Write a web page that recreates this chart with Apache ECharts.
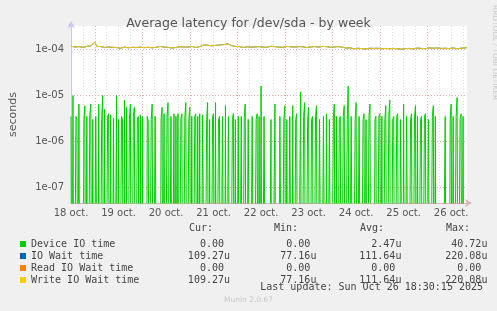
<!DOCTYPE html>
<html><head><meta charset="utf-8">
<script src="https://cdn.jsdelivr.net/npm/echarts@6/dist/echarts.min.js"></script>
<style>html,body{margin:0;padding:0;background:#f0f0f0;}#c{width:497px;height:311px;}</style>
</head><body><div id="c"></div>
<script>
// x unit: hours since 18 oct 00:00; plot spans 18 oct 12:00 .. 26 oct 20:00
const xMin = 12, xMax = 212;
const dayLabels = ['18 oct.','19 oct.','20 oct.','21 oct.','22 oct.','23 oct.','24 oct.','25 oct.','26 oct.'];
const yTickLabels = {'-7':'1e-07','-6':'1e-06','-5':'1e-05','-4':'1e-04'};
const yMin = 4.56e-8, yMax = 3.26e-4;

// Device IO time, microseconds, one sample per 30 minutes starting at hour 12
const deviceStart = 12, deviceStep = 0.5;
const deviceIO = [
3.5,0,10,0,0,3.5,3,0,6.5,0,0,0,0,3,6,0,3.5,0,0,3.8,
6.5,0,3,0,0,3.5,3.2,0,6.5,0,0,3,10,0,5,0,0,3.5,4,0,
3.8,0,0,3.2,0,0,10,0,3,0,0,3.5,3,0,8,0,5.5,0,0,3,
6.5,0,0,3.5,5.5,0,0,3,3.5,0,3.8,0,3.5,0,0,0,0,3.5,2.8,0,
0,3,6.5,0,0,3.5,3.5,0,0,0,0,3.2,5.5,0,4,0,0,3.5,7,0,
0,3.5,0,0,4,0,3.5,0,4,0,0,3,4,0,0,3.5,7,0,0,3,
5.5,0,3.5,0,0,3.5,4,0,3.5,0,4,0,0,3.8,3.5,0,0,3,7,0,
3,0,0,3.5,4,0,7,0,0,3,3.5,0,0,3.5,3.8,0,6,0,0,3.5,
3.5,0,0,3,4,0,3,0,0,3.5,0,0,3.5,0,0,3.2,6.5,0,0,3,
3,0,0,3.5,3.5,0,0,3,4,0,3.5,0,16,0,0,3.5,3.5,0,0,0,
0,0,3,0,0,0,6.5,0,0,0,0,3.5,3.5,0,0,3,6,0,3,0,
0,3.5,3.5,0,6,0,0,3,4,0,0,0,12,0,0,3.5,7,0,0,3,
5.5,0,0,3,3.5,0,0,3.5,6,0,0,3,3.2,0,0,3.5,3.5,0,4,0,
0,3,3,0,0,3.5,6.5,0,3.5,0,0,3,3.5,0,0,3.5,6,0,0,3,
16,0,0,3.5,3.5,0,0,3,7,0,0,3.5,3.8,0,0,3,4,0,3,0,
0,3.5,6.5,0,0,0,0,3,3.5,0,0,3.5,4,0,3.5,0,0,3,6,0,
0,3.5,8,0,0,3,3.5,0,0,3.5,4,0,0,3,3,0,6.5,0,0,3.5,
3.5,0,0,3,4,0,0,3.5,6,0,3.5,0,0,3,3.5,0,0,3.5,4,0,
0,3,3,0,0,3.5,6,0,3.5,0,0,0,0,0,0,0,0,0,3.5,0,
0,0,0,3,6.5,0,3.5,0,0,3.5,9,0,0,3,4,0,3.5,0,0,0
];
// Write IO Wait time, microseconds, one sample per hour starting at hour 12
const writeStart = 12, writeStep = 1;
const writeWait = [
118,121,114,117,116,113,112,116,117,119,121,124,145,118,113,116,115,111,112,114,
110,112,108,111,112,107,109,113,111,109,114,112,108,111,110,113,113,110,109,112,
111,109,108,112,114,117,110,113,116,112,112,108,109,111,113,115,110,114,118,113,
112,117,115,111,110,116,122,126,128,124,125,121,119,123,121,126,124,128,130,133,
127,123,120,117,118,116,114,111,112,115,116,113,110,114,113,116,117,113,111,112,
115,118,112,116,118,113,110,112,114,117,120,115,116,113,112,116,119,115,113,111,
111,114,118,116,115,113,112,117,120,116,114,112,117,114,113,116,116,113,112,108,
106,109,107,104,105,107,108,105,106,103,104,107,109,106,105,107,108,104,104,106,
106,104,103,106,107,104,105,102,102,105,108,106,104,103,106,108,109,106,105,104,
107,109,110,107,106,108,109,106,105,107,108,105,106,109,107,104,105,107,108,109,110
];
const ioWait = writeWait; // identical to write wait in the reference
const readWait = [0, 0];  // zero over the whole period
const readHours = [12, 212];

const names = ['Device IO time','IO Wait time','Read IO Wait time','Write IO Wait time'];
const colors = ['#00cc00','#0066b3','#ff8000','#ffcc00'];
const curVals = ['0.00 ','109.27u','0.00 ','109.27u'];
const minVals = ['0.00 ','77.16u','0.00 ','77.16u'];
const avgVals = ['2.47u','111.64u','0.00 ','111.64u'];
const maxVals = ['40.72u','220.08u','0.00 ','220.08u'];
const headers = ['Cur:','Min:','Avg:','Max:'];
const lastUpdate = 'Last update: Sun Oct 26 18:30:15 2025';

const FLOOR = 1e-12; // zero cannot be shown on a log axis: drawn below the plot and clipped
function toPairs(vals, start, step) {
  return vals.map((v, i) => [start + i * step, v === 0 ? FLOOR : v * 1e-6]);
}
const minorGrid = [];
[1e-8,1e-7,1e-6,1e-5,1e-4].forEach(d => { for (let m = 2; m <= 9; m++) { const v = d*m; if (v > yMin && v < yMax) minorGrid.push({yAxis: v}); } });

const chart = echarts.init(document.getElementById('c'), null, {renderer: 'canvas'});
const mono = 'DejaVu Sans Mono';
const gray = '#dcdcdc', red = '#e8a8a8';
const txt = '#444';
chart.setOption({
  backgroundColor: '#f0f0f0',
  animation: false,
  title: {text: 'Average latency for /dev/sda - by week', left: 'center', top: 12,
    textStyle: {fontFamily: 'DejaVu Sans', fontSize: 12.5, fontWeight: 'normal', color: '#555'}},
  grid: {left: 67, right: 30, top: 26, bottom: 108, show: true, backgroundColor: '#ffffff', borderWidth: 0},
  xAxis: {type: 'value', min: xMin, max: xMax, interval: 6,
    axisLine: {show: true, lineStyle: {color: '#e0b0b8', width: 1}, symbol: ['none','arrow'], symbolSize: [6, 7], symbolOffset: [0, 5]},
    axisTick: {show: false},
    axisLabel: {interval: 0, margin: 5, fontFamily: 'DejaVu Sans', fontSize: 10, color: '#555', hideOverlap: false,
      formatter: v => { const d = (v - 12) / 24; return Math.abs(d - Math.round(d)) < 1e-6 ? (dayLabels[Math.round(d)] || '') : ''; }},
    splitLine: {show: true, showMaxLine: false, lineStyle: {color: [gray, gray, red, gray], type: [1, 2], width: 1}}
  },
  yAxis: {type: 'log', logBase: 10, min: yMin, max: yMax,
    name: 'seconds', nameLocation: 'middle', nameGap: 52, nameRotate: 90,
    nameTextStyle: {fontFamily: 'DejaVu Sans', fontSize: 11, color: '#555'},
    axisLine: {show: true, lineStyle: {color: '#c8c8f0', width: 1}, symbol: ['none','arrow'], symbolSize: [6, 7], symbolOffset: [0, 5]},
    axisTick: {show: false},
    axisLabel: {margin: 7, fontFamily: 'DejaVu Sans', fontSize: 10, color: '#555', showMinLabel: false, showMaxLabel: false,
      formatter: v => { const e = Math.round(Math.log10(v)); return yTickLabels[String(e)] || ''; }},
    splitLine: {show: true, showMinLine: false, showMaxLine: false, lineStyle: {color: red, type: [1, 2], width: 1}}
  },
  legend: {orient: 'vertical', left: 15, top: 233, itemWidth: 6, itemHeight: 6, itemGap: 0, icon: 'rect', selectedMode: false,
    data: names,
    textStyle: {fontFamily: mono, fontSize: 10, color: txt, lineHeight: 12,
      rich: {n: {width: 139, fontFamily: mono, fontSize: 10, color: txt},
             c: {width: 60, align: 'right', fontFamily: mono, fontSize: 10, color: txt},
             m: {width: 86.4, align: 'right', fontFamily: mono, fontSize: 10, color: txt},
             a: {width: 85, align: 'right', fontFamily: mono, fontSize: 10, color: txt},
             x: {width: 86, align: 'right', fontFamily: mono, fontSize: 10, color: txt}}},
    formatter: name => { const i = names.indexOf(name); return '{n|' + name + '}{c|' + curVals[i] + '}{m|' + minVals[i] + '}{a|' + avgVals[i] + '}{x|' + maxVals[i] + '}'; }
  },
  graphic: [
    {type: 'text', left: 213 - 24, top: 223, style: {text: headers[0], font: '10px ' + mono, fill: txt}},
    {type: 'text', left: 298 - 24, top: 223, style: {text: headers[1], font: '10px ' + mono, fill: txt}},
    {type: 'text', left: 384 - 24, top: 223, style: {text: headers[2], font: '10px ' + mono, fill: txt}},
    {type: 'text', left: 470 - 24, top: 223, style: {text: headers[3], font: '10px ' + mono, fill: txt}},
    {type: 'text', right: 14, top: 282, style: {text: lastUpdate, font: '10px ' + mono, fill: txt}},
    {type: 'text', left: 'center', top: 296, style: {text: 'Munin 2.0.67', font: '7.5px DejaVu Sans', fill: '#c8c8c8'}},
    {type: 'text', x: 491, y: 5, rotation: -Math.PI / 2, style: {text: 'RRDTOOL / TOBI OETIKER', font: '7.4px DejaVu Sans', fill: '#c8c8c8', textAlign: 'left', textVerticalAlign: 'bottom'}}
  ],
  series: [
    {name: names[0], type: 'line', data: toPairs(deviceIO, deviceStart, deviceStep), symbol: 'none', color: colors[0],
      lineStyle: {width: 1, color: colors[0]}, clip: true,
      markLine: {silent: true, symbol: 'none', z: 1, label: {show: false}, lineStyle: {color: gray, type: [1, 2], width: 1}, data: minorGrid}},
    {name: names[1], type: 'line', data: toPairs(ioWait, writeStart, writeStep), symbol: 'none', color: colors[1], lineStyle: {width: 1, color: colors[1]}, clip: true},
    {name: names[2], type: 'line', data: readHours.map((h, i) => [h, readWait[i] === 0 ? FLOOR : readWait[i] * 1e-6]), symbol: 'none', color: colors[2], lineStyle: {width: 1, color: colors[2]}, clip: true},
    {name: names[3], type: 'line', data: toPairs(writeWait, writeStart, writeStep), symbol: 'none', color: colors[3], lineStyle: {width: 1, color: colors[3]}, clip: true}
  ]
});
</script></body></html>
